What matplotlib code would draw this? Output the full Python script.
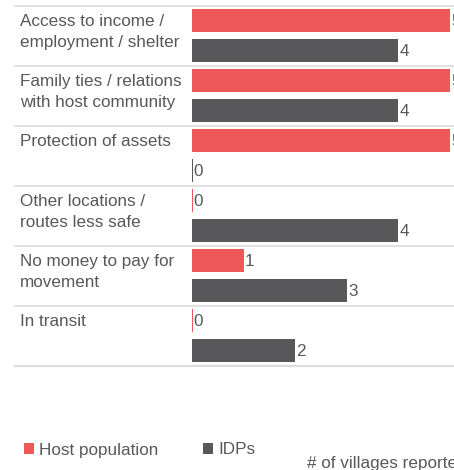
import numpy as np
import matplotlib
matplotlib.use("Agg")
import matplotlib.pyplot as plt
from matplotlib.patches import Patch

# data
categories = [
    "Access to income /\nemployment / shelter",
    "Family ties / relations\nwith host community",
    "Protection of assets",
    "Other locations /\nroutes less safe",
    "No money to pay for\nmovement",
    "In transit",
]
host = [5, 5, 5, 0, 1, 0]
idps = [4, 4, 0, 4, 3, 2]
series_names = ["Host population", "IDPs"]
x_label = "# of villages reported"

RED = "#EE5859"
DARK = "#58585A"
TXT = "#58585A"
GRID = "#DCDCDC"
FS = 12.3

plt.rcParams["font.family"] = ["Liberation Sans", "DejaVu Sans"]

W, H = 454, 470
fig = plt.figure(figsize=(W / 100, H / 100), dpi=100)

# axes: bars start at x=192px, 1 unit ~ 51.5px, rows from y=6 to 366px
left_px, top_px, bot_px = 192, 6, 366
unit = 51.5
xmax = 6
ax = fig.add_axes([left_px / W, 1 - bot_px / H, xmax * unit / W, (bot_px - top_px) / H])
ax.set_xlim(0, xmax)
n = len(categories)
ax.set_ylim(n, 0)
for s in ax.spines.values():
    s.set_visible(False)
ax.set_xticks([])
ax.set_yticks([])

rows = np.arange(n)
bh = 0.375
min_w = 0.012
host_w = np.maximum(np.array(host, float), min_w)
idp_w = np.maximum(np.array(idps, float), min_w)
ax.barh(rows + 0.24, host_w, height=bh, color=RED)
ax.barh(rows + 0.74, idp_w, height=bh, color=DARK)

for i in range(n):
    ax.text(host[i] + 0.03, rows[i] + 0.25, str(host[i]), va="center", ha="left",
            fontsize=FS, color=TXT)
    ax.text(idps[i] + 0.03, rows[i] + 0.75, str(idps[i]), va="center", ha="left",
            fontsize=FS, color=TXT)

# row separators extending to the left under labels
xmin_ax = (15 - left_px) / (xmax * unit)
for y in range(n + 1):
    ax.axhline(y, xmin=xmin_ax, xmax=1, color=GRID, lw=1.2 if y < n else 1.6,
               clip_on=False, zorder=0)

# category labels
for i, c in enumerate(categories):
    fig.text(20 / W, 1 - (top_px + i * 60 + 8) / H, c, ha="left", va="top",
             fontsize=FS, color=TXT, linespacing=1.5)

handles = [Patch(facecolor=RED, edgecolor="none"), Patch(facecolor=DARK, edgecolor="none")]
fig.legend(handles, series_names, loc="center left", bbox_to_anchor=(24 / W, 20 / H),
           ncol=2, frameon=False, fontsize=FS, labelcolor=TXT, handlelength=0.6,
           handleheight=0.6, handletextpad=0.3, columnspacing=2.6, borderaxespad=0,
           borderpad=0)

fig.text(307 / W, 2 / H, x_label, ha="left", va="baseline", fontsize=FS, color=TXT)

fig.savefig("out.png", dpi=100)
